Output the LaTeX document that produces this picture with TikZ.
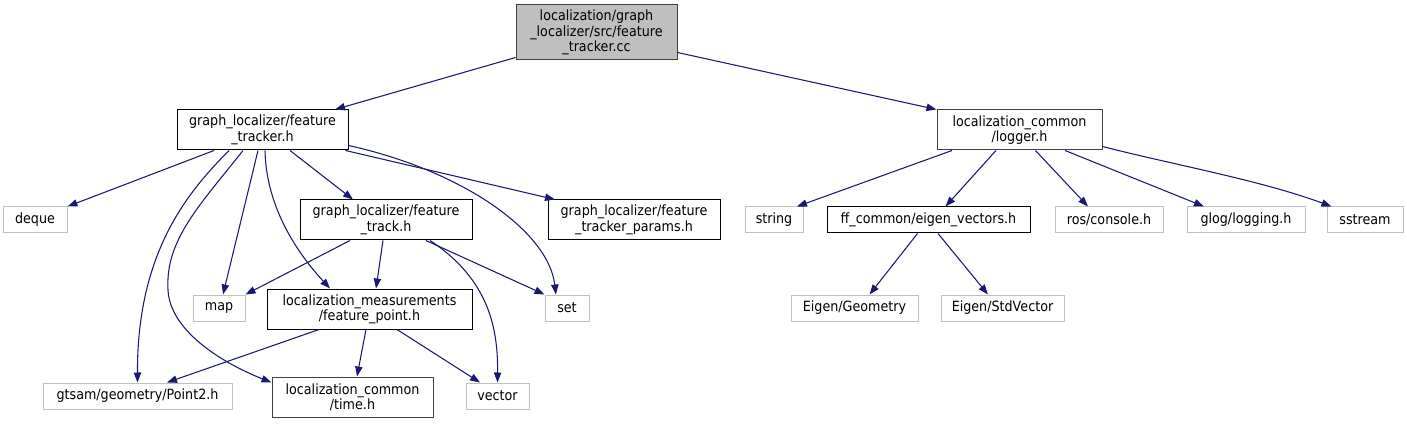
\documentclass[tikz,border=0pt]{standalone}
\usepackage{fontspec}
\setmainfont[FakeStretch=0.9]{DejaVu Sans}
\usepackage{xcolor}
\usepackage{tikz}
\usetikzlibrary{arrows.meta,calc}

\definecolor{depblue}{HTML}{191970}
\definecolor{sysgray}{HTML}{BFBFBF}
\definecolor{docgray}{HTML}{404040}

\begin{document}
\begin{tikzpicture}[x=0.75pt, y=-0.75pt, >={Triangle[length=7.5pt,width=5.5pt]},
  font=\fontsize{10.6}{10}\selectfont,
  file/.style={draw=black, fill=white, line width=0.75pt, align=center, inner sep=1pt, minimum height=26*0.75pt},
  sys/.style={file, draw=sysgray},
  doc/.style={file, draw=docgray},
  bw/.style={minimum width=#1*0.75pt},
  bh/.style={minimum height=#1*0.75pt},
  dep/.style={draw=depblue, line width=0.8pt, ->}]
  \useasboundingbox (0,0) rectangle (1407,424);

  % top row
  \node[doc, fill=sysgray, bw=161, bh=55] (root) at (596.5,32.5) {localization/graph\\\_localizer/src/feature\\\_tracker.cc};
  \node[file, bw=171, bh=40] (ft) at (262.5,130) {graph\_localizer/feature\\\_tracker.h};
  \node[doc, bw=165, bh=40] (logger) at (1019.5,130) {localization\_common\\/logger.h};

  % second row
  \node[sys, bw=64] (deque) at (35,220) {deque};
  \node[file, bw=172, bh=40] (track) at (386,220) {graph\_localizer/feature\\\_track.h};
  \node[file, bw=172, bh=40] (params) at (634,220) {graph\_localizer/feature\\\_tracker\_params.h};
  \node[sys, bw=58] (string) at (774,220) {string};
  \node[file, bw=203] (eigen) at (928.5,220) {ff\_common/eigen\_vectors.h};
  \node[sys, bw=108] (ros) at (1109,220) {ros/console.h};
  \node[sys, bw=118] (glog) at (1246,220) {glog/logging.h};
  \node[sys, bw=76] (sstream) at (1365,220) {sstream};

  % third row
  \node[sys, bw=52] (map) at (219,308) {map};
  \node[file, bw=205, bh=40] (fp) at (369.5,309) {localization\_measurements\\/feature\_point.h};
  \node[sys, bw=44] (set) at (567,308) {set};
  \node[sys, bw=127] (geo) at (854.5,308) {Eigen/Geometry};
  \node[sys, bw=123] (stdv) at (1002.5,308) {Eigen/StdVector};

  % bottom row
  \node[sys, bw=189] (pt2) at (137.5,396) {gtsam/geometry/Point2.h};
  \node[doc, bw=161, bh=40] (time) at (352.5,397) {localization\_common\\/time.h};
  \node[sys, bw=63] (vector) at (497.5,396) {vector};

  % includes of the source file
  \draw[dep] ($(root.south west)+(0,-3)$) -- ($(ft.north)+(72.5,0)$);
  \draw[dep] ($(root.south east)+(0,-8)$) -- (logger.north west);

  % feature_tracker.h
  \draw[dep] ($(ft.south)+(-48.5,0)$) -- (deque.north east);
  \draw[dep] ($(ft.south)+(-33.5,0)$) .. controls (190,190) and (137,250) .. (pt2.north);
  \draw[dep] ($(ft.south)+(-19.5,0)$) .. controls (200,205) and (165,240) .. (168,290)
    .. controls (170,330) and (220,362) .. ($(time.north west)+(0,6)$);
  \draw[dep] ($(ft.south)+(-4.5,0)$) -- ($(map.north)+(4,0)$);
  \draw[dep] ($(ft.south)+(2.5,0)$) .. controls (266,200) and (290,245) .. ($(fp.north)+(-39.5,0)$);
  \draw[dep] ($(ft.south)+(27.5,0)$) -- ($(track.north)+(-33,0)$);
  \draw[dep] ($(ft.south east)+(-3,0)$) -- ($(params.north)+(-79,0)$);
  \draw[dep] ($(ft.south east)+(0,-5)$) .. controls (460,170) and (548,230) .. ($(set.north)+(-11,0)$);

  % feature_track.h
  \draw[dep] ($(track.south)+(-36,0)$) -- (map.north east);
  \draw[dep] ($(track.south)+(-3,0)$) -- ($(fp.north)+(6.5,0)$);
  \draw[dep] ($(track.south)+(40,0)$) -- (set.north west);
  \draw[dep] ($(track.south)+(44,0)$) .. controls (490,280) and (498,330) .. (vector.north);

  % feature_point.h
  \draw[dep] ($(fp.south)+(-50.5,0)$) -- ($(pt2.north)+(29.5,0)$);
  \draw[dep] ($(fp.south)+(-3.5,0)$) -- ($(time.north)+(4.5,0)$);
  \draw[dep] ($(fp.south)+(27.5,0)$) -- ($(vector.north)+(-17.5,0)$);

  % logger.h
  \draw[dep] ($(logger.south)+(-67.5,0)$) -- ($(string.north)+(23,0)$);
  \draw[dep] ($(logger.south)+(-23.5,0)$) -- ($(eigen.north)+(17,0)$);
  \draw[dep] ($(logger.south)+(16,0)$) -- ($(ros.north)+(-21,0)$);
  \draw[dep] ($(logger.south)+(45.5,0)$) -- ($(glog.north)+(-42,0)$);
  \draw[dep] ($(logger.south east)+(0,-4)$) .. controls (1170,164) and (1260,180) .. ($(sstream.north west)+(5,0)$);

  % eigen_vectors.h
  \draw[dep] ($(eigen.south)+(-11,0)$) -- ($(geo.north)+(15,0)$);
  \draw[dep] ($(eigen.south)+(9.5,0)$) -- ($(stdv.north)+(-14.5,0)$);
\end{tikzpicture}
\end{document}
